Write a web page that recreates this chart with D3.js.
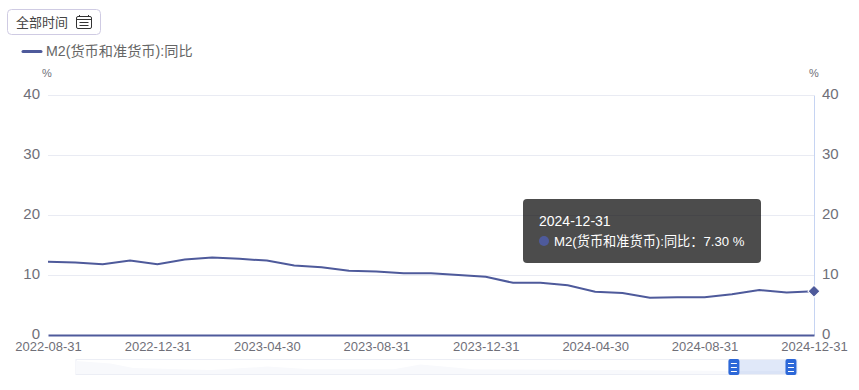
<!DOCTYPE html>
<html>
<head>
<meta charset="utf-8">
<script src="https://cdn.jsdelivr.net/npm/d3@7"></script>
<style>
  html, body { margin: 0; padding: 0; background: #fff; }
  svg { display: block; }
  text { font-family: "Liberation Sans", "Noto Sans CJK SC", sans-serif; }
</style>
</head>
<body>
<svg id="chart" width="859" height="390"></svg>
<script>
const dates = [
  "2022-08-31", "2022-09-30", "2022-10-31", "2022-11-30", "2022-12-31",
  "2023-01-31", "2023-02-28", "2023-03-31", "2023-04-30", "2023-05-31",
  "2023-06-30", "2023-07-31", "2023-08-31", "2023-09-30", "2023-10-31",
  "2023-11-30", "2023-12-31", "2024-01-31", "2024-02-29", "2024-03-31",
  "2024-04-30", "2024-05-31", "2024-06-30", "2024-07-31", "2024-08-31",
  "2024-09-30", "2024-10-31", "2024-11-30", "2024-12-31"
];
const m2Values = [
  12.2, 12.1, 11.8, 12.4, 11.8, 12.6, 12.9, 12.7, 12.4, 11.6,
  11.3, 10.7, 10.6, 10.3, 10.3, 10.0, 9.7, 8.7, 8.7, 8.3,
  7.2, 7.0, 6.2, 6.3, 6.3, 6.8, 7.5, 7.1, 7.3
];
const xTicks = ["2022-08-31", "2022-12-31", "2023-04-30", "2023-08-31",
  "2023-12-31", "2024-04-30", "2024-08-31", "2024-12-31"];
const yTicks = [0, 10, 20, 30, 40];
const seriesName = "M2(货币和准货币):同比";

// faint full-history shadow in the range slider
const sliderDates = ["1995-09-30", "1997-02-28", "1998-01-31", "2001-03-31", "2003-07-31",
  "2005-04-30", "2008-09-30", "2009-10-31", "2010-08-31", "2011-12-31",
  "2017-06-30", "2022-08-31", "2025-03-31"];
const sliderValues = [30, 24, 14, 9, 17, 11, 11, 22, 18, 11, 9, 7, 7];

const lineColor = "#4e5a9b";
const textColor = "#6f6f78";
const parseDate = d3.timeParse("%Y-%m-%d");

const svg = d3.select("#chart");

const x = d3.scalePoint().domain(dates).range([48, 814]);
const y = d3.scaleLinear().domain([0, 40]).range([335, 95]);

// horizontal grid
svg.append("g")
  .selectAll("line")
  .data(yTicks.filter(d => d > 0))
  .join("line")
    .attr("x1", 48)
    .attr("x2", 814)
    .attr("y1", d => y(d) + 0.5)
    .attr("y2", d => y(d) + 0.5)
    .attr("stroke", "#e9ebf3");

// left and right value axes
const axisLeft = svg.append("g")
  .attr("class", "tick-y")
  .attr("transform", "translate(48,0)")
  .call(d3.axisLeft(y).tickValues(yTicks).tickSize(0).tickPadding(8));
const axisRight = svg.append("g")
  .attr("class", "tick-y")
  .attr("transform", "translate(814,0)")
  .call(d3.axisRight(y).tickValues(yTicks).tickSize(0).tickPadding(8));
axisLeft.select(".domain").remove();
axisRight.select(".domain").attr("stroke", "#c6d4f2");
svg.selectAll(".tick-y text")
  .attr("font-size", 15)
  .attr("dy", "0.22em")
  .attr("fill", textColor);

// unit labels
svg.selectAll(".unit")
  .data([47, 814])
  .join("text")
    .attr("class", "unit")
    .attr("x", d => d)
    .attr("y", 77)
    .attr("text-anchor", "middle")
    .attr("font-size", 11)
    .attr("fill", textColor)
    .text("%");

// category axis
const axisBottom = svg.append("g")
  .attr("transform", "translate(0,335)")
  .call(d3.axisBottom(x).tickValues(xTicks).tickSize(0).tickPadding(7));
axisBottom.select(".domain")
  .attr("stroke", lineColor)
  .attr("stroke-width", 2);
axisBottom.selectAll("text")
  .attr("font-size", 13)
  .attr("fill", textColor);

// series line
const line = d3.line()
  .x((d, i) => x(dates[i]))
  .y(d => y(d));
svg.append("path")
  .datum(m2Values)
  .attr("fill", "none")
  .attr("stroke", lineColor)
  .attr("stroke-width", 2)
  .attr("d", line);

// last point marker
const lastDate = dates[dates.length - 1];
const lastValue = m2Values[m2Values.length - 1];
svg.append("path")
  .attr("d", d3.symbol(d3.symbolSquare, 72))
  .attr("transform", "translate(" + x(lastDate) + "," + y(lastValue) + ") rotate(45)")
  .attr("fill", lineColor)
  .attr("stroke", "#fff");

// tooltip
const tip = svg.append("g").attr("transform", "translate(523,199)");
tip.append("rect")
  .attr("width", 238)
  .attr("height", 64)
  .attr("rx", 4)
  .attr("fill", "#000")
  .attr("fill-opacity", 0.7);
tip.append("text")
  .attr("x", 16)
  .attr("y", 27)
  .attr("font-size", 14)
  .attr("fill", "#fff")
  .text(lastDate);
tip.append("circle")
  .attr("cx", 21)
  .attr("cy", 42)
  .attr("r", 5)
  .attr("fill", lineColor);
tip.append("text")
  .attr("x", 31)
  .attr("y", 47)
  .attr("font-size", 13.2)
  .attr("fill", "#fff")
  .text(seriesName + "：" + lastValue.toFixed(2) + " %");

// date filter button
svg.append("rect")
  .attr("x", 7.5)
  .attr("y", 9.5)
  .attr("width", 93)
  .attr("height", 25)
  .attr("rx", 4)
  .attr("fill", "#fff")
  .attr("stroke", "#cfcbe3");
svg.append("text")
  .attr("x", 16)
  .attr("y", 27)
  .attr("font-size", 13)
  .attr("fill", "#444")
  .text("全部时间");
const cal = svg.append("g")
  .attr("transform", "translate(76,15)")
  .attr("fill", "none")
  .attr("stroke", "#333");
cal.append("rect").attr("x", 0.5).attr("y", 1.5).attr("width", 15).attr("height", 12).attr("rx", 1.5);
cal.selectAll("path")
  .data(["M0 4.5H16", "M3.5 7.5H12.5", "M3.5 10.5H12.5", "M3.5 0V2", "M12.5 0V2"])
  .join("path")
    .attr("d", d => d);

// legend
svg.append("line")
  .attr("x1", 23)
  .attr("x2", 41)
  .attr("y1", 51.5)
  .attr("y2", 51.5)
  .attr("stroke", lineColor)
  .attr("stroke-width", 3)
  .attr("stroke-linecap", "round");
svg.append("text")
  .attr("x", 46)
  .attr("y", 56)
  .attr("font-size", 14.2)
  .attr("fill", "#666")
  .text(seriesName);

// range slider
const sliderX = d3.scaleTime()
  .domain([parseDate("1995-09-30"), parseDate("2025-03-31")])
  .range([76, 797]);
const sliderY = d3.scaleLinear().domain([0, 32]).range([374, 360]);

svg.append("rect")
  .attr("x", 76)
  .attr("y", 359.5)
  .attr("width", 721)
  .attr("height", 15)
  .attr("fill", "#fff")
  .attr("stroke", "#eceef5");
svg.append("path")
  .datum(sliderValues)
  .attr("fill", "#f8f9fc")
  .attr("d", d3.area()
    .x((d, i) => sliderX(parseDate(sliderDates[i])))
    .y0(374)
    .y1(d => sliderY(d)));

const handleX = [dates[0], lastDate].map(d => sliderX(parseDate(d)));
svg.append("rect")
  .attr("x", handleX[0])
  .attr("y", 360)
  .attr("width", handleX[1] - handleX[0])
  .attr("height", 14)
  .attr("fill", "#2d68d8")
  .attr("fill-opacity", 0.15);
svg.selectAll(".handle")
  .data(handleX)
  .join("g")
    .attr("class", "handle")
    .attr("transform", d => "translate(" + d + ",359)")
    .each(function() {
      const h = d3.select(this);
      h.append("rect")
        .attr("x", -5.5).attr("y", 0).attr("width", 11).attr("height", 16).attr("rx", 2)
        .attr("fill", "#2d68d8");
      h.selectAll("line")
        .data([4, 8, 12])
        .join("line")
          .attr("x1", -3).attr("x2", 3)
          .attr("y1", d => d + 0.5).attr("y2", d => d + 0.5)
          .attr("stroke", "#fff");
    });
</script>
</body>
</html>
